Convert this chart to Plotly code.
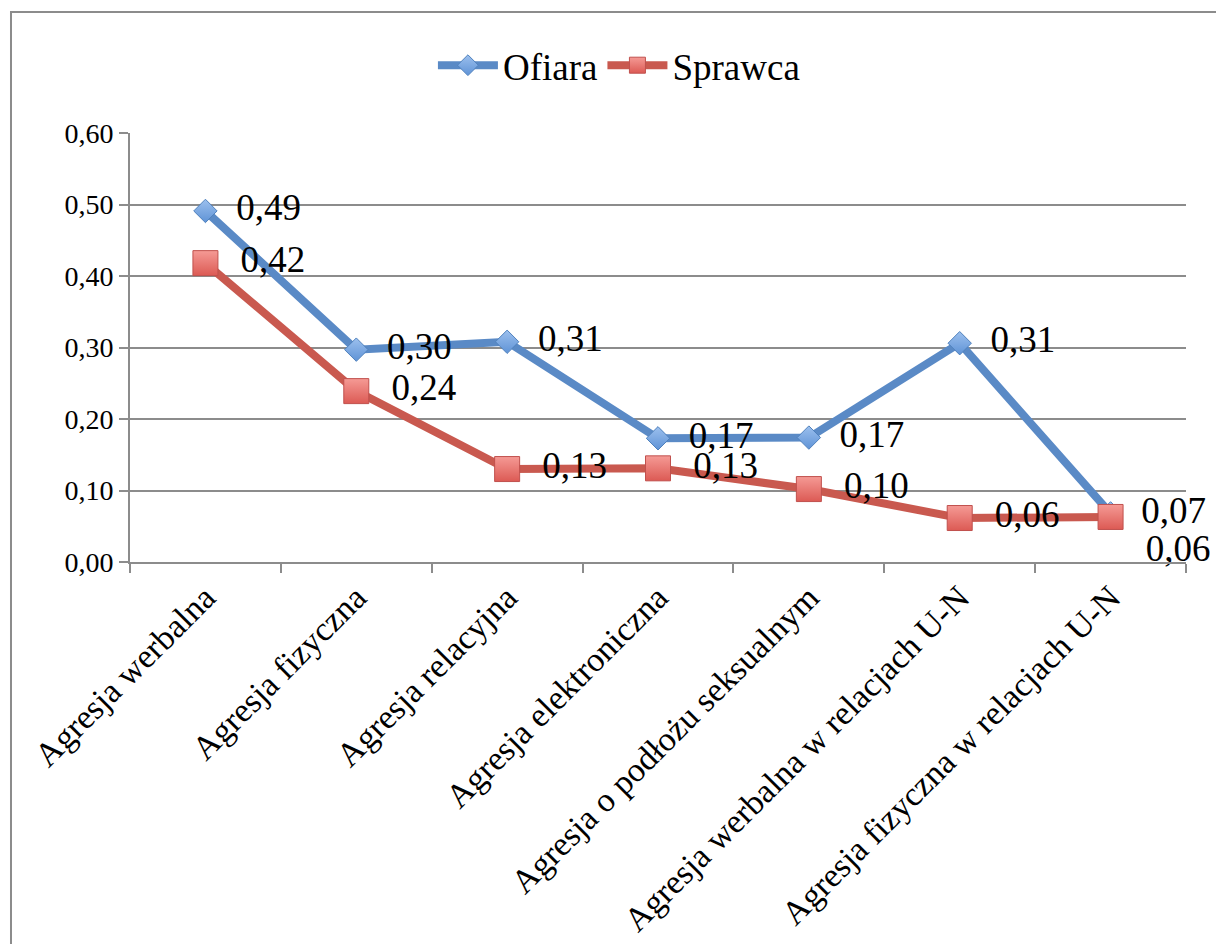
import plotly.graph_objects as go

categories = [
    "Agresja werbalna",
    "Agresja fizyczna",
    "Agresja relacyjna",
    "Agresja elektroniczna",
    "Agresja o podłożu seksualnym",
    "Agresja werbalna w relacjach U-N",
    "Agresja fizyczna w relacjach U-N",
]
ofiara = [0.491, 0.297, 0.308, 0.173, 0.174, 0.306, 0.068]
sprawca = [0.418, 0.239, 0.130, 0.131, 0.102, 0.0615, 0.063]

ofiara_pos = ["middle right"] * 7
sprawca_pos = ["middle right"] * 6 + ["bottom right"]


def fmt(v):
    return "  " + f"{v:.2f}".replace(".", ",")


FONT = "Liberation Serif"

fig = go.Figure()
fig.add_trace(go.Scatter(
    x=categories, y=ofiara, name="Ofiara", mode="lines+markers+text",
    text=[fmt(v) for v in ofiara], textposition=ofiara_pos,
    textfont=dict(family=FONT, size=37, color="black"),
    line=dict(color="#5A8AC6", width=8),
    marker=dict(symbol="diamond", size=18, color="#9CC0EE",
                gradient=dict(type="vertical", color="#5F93D6"),
                line=dict(color="#4F81BD", width=1)),
    cliponaxis=False,
))
fig.add_trace(go.Scatter(
    x=categories, y=sprawca, name="Sprawca", mode="lines+markers+text",
    text=[fmt(v) for v in sprawca], textposition=sprawca_pos,
    textfont=dict(family=FONT, size=37, color="black"),
    line=dict(color="#C9594F", width=8),
    marker=dict(symbol="square", size=25, color="#F59A95",
                gradient=dict(type="vertical", color="#DC5A54"),
                line=dict(color="#C0504D", width=1)),
    cliponaxis=False,
))

fig.update_layout(
    width=1216, height=944,
    margin=dict(l=130, r=30, t=133, b=382),
    paper_bgcolor="white", plot_bgcolor="white",
    separators=", ",
    font=dict(family=FONT, color="black"),
    showlegend=True,
    legend=dict(orientation="h", x=0.463, xanchor="center", y=1.157, yanchor="middle",
                font=dict(family=FONT, size=37), itemwidth=60,
                bgcolor="rgba(0,0,0,0)"),
    xaxis=dict(
        type="category", range=[-0.5, 6.5], showgrid=False, automargin=False,
        showline=True, linecolor="#8C8C8C", linewidth=2,
        ticks="outside", tickson="boundaries", ticklen=9, tickcolor="#8C8C8C", tickwidth=2,
        tickangle=-45, tickfont=dict(family=FONT, size=34),
    ),
    yaxis=dict(
        range=[0, 0.6], dtick=0.1, tickformat=".2f", automargin=False,
        showgrid=True, gridcolor="#8C8C8C", gridwidth=1.5,
        showline=True, linecolor="#8C8C8C", linewidth=2,
        ticks="outside", ticklen=9, tickcolor="#8C8C8C", tickwidth=2,
        tickfont=dict(family=FONT, size=28), zeroline=False,
    ),
    shapes=[dict(type="rect", xref="paper", yref="paper",
                 x0=-0.1127, x1=1.1, y0=-0.95, y1=1.282,
                 line=dict(color="#8C8C8C", width=2), fillcolor="rgba(0,0,0,0)",
                 layer="below")],
)

fig.write_html("out.html", config={"displayModeBar": False},
               post_script="document.body.style.margin='0';document.body.style.overflow='hidden';")
